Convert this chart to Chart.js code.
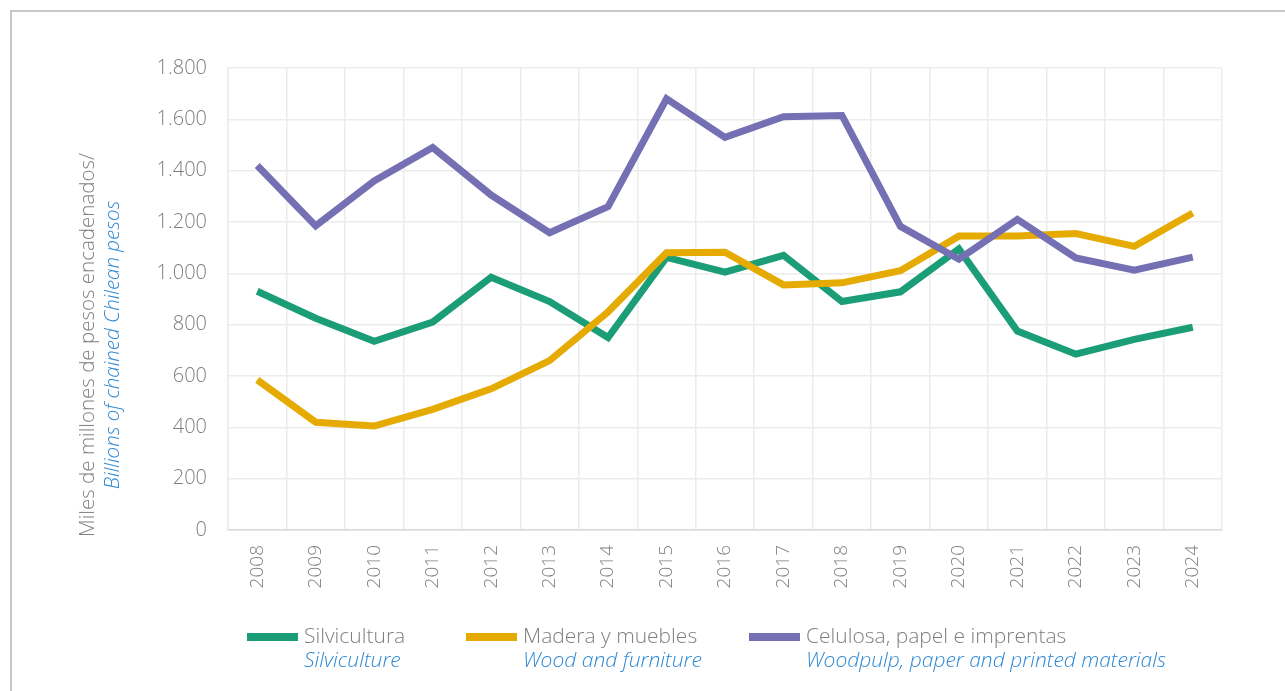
<!DOCTYPE html>
<html>
<head>
<meta charset="utf-8">
<script src="https://cdn.jsdelivr.net/npm/chart.js@4"></script>
<style>
  body { margin: 0; background: #fff; font-family: 'Open Sans', sans-serif; font-weight: 300; }
  #wrap { position: relative; width: 1285px; height: 691px; overflow: hidden; }
  #frame { position: absolute; left: 10px; top: 10px; width: 1300px; height: 720px; border: 2px solid #c8c8c8; }
  canvas { position: absolute; left: 0; top: 0; }
  .leg { position: absolute; top: 623px; font-size: 21px; line-height: 24px; color: #7f7f7f; }
  .leg .sw { position: absolute; left: 0; top: 10px; width: 51px; height: 8px; }
  .leg .t { margin-left: 57px; white-space: nowrap; }
  .leg .en { color: #2f88d4; font-style: italic; }
</style>
</head>
<body>
<div id="wrap">
  <div id="frame"></div>
  <canvas id="chart" width="1285" height="691"></canvas>
  <div id="legend"></div>
</div>
<script>
// Categories and series (miles de millones de pesos encadenados)
const years = ['2008', '2009', '2010', '2011', '2012', '2013', '2014', '2015', '2016',
               '2017', '2018', '2019', '2020', '2021', '2022', '2023', '2024'];

const silvicultura = [930, 825, 735, 810, 985, 890, 750, 1062, 1005, 1070, 890, 928, 1095, 775, 685, 743, 790];
const madera = [585, 420, 405, 470, 550, 660, 850, 1080, 1082, 955, 963, 1010, 1145, 1145, 1155, 1105, 1235];
const celulosa = [1420, 1185, 1360, 1490, 1305, 1158, 1260, 1680, 1530, 1610, 1615, 1183, 1055, 1210, 1060, 1012, 1063];

const seriesNames = ['Silvicultura', 'Madera y muebles', 'Celulosa, papel e imprentas'];
const seriesNamesEn = ['Silviculture', 'Wood and furniture', 'Woodpulp, paper and printed materials'];
const seriesColors = ['#1b9e77', '#e6ab02', '#7570b3'];

const yTitle = 'Miles de millones de pesos encadenados/';
const yTitleEn = 'Billions of chained Chilean pesos';

const gray = '#7f7f7f';
const blue = '#2f88d4';
const fontFamily = "'Open Sans', sans-serif";

// Two-colour y axis title
const yTitlePlugin = {
    id: 'yTitle',
    afterDraw(chart) {
        const ctx = chart.ctx;
        const cy = 345;
        ctx.save();
        ctx.textAlign = 'center';
        ctx.textBaseline = 'middle';
        ctx.translate(88, cy);
        ctx.rotate(-Math.PI / 2);
        ctx.fillStyle = gray;
        ctx.font = '300 20.5px ' + fontFamily;
        ctx.fillText(yTitle, 0, 0);
        ctx.fillStyle = blue;
        ctx.font = 'italic 300 20.5px ' + fontFamily;
        ctx.fillText(yTitleEn, 0, 25);
        ctx.restore();
    }
};

const datasets = [silvicultura, madera, celulosa].map((data, i) => ({
    label: seriesNames[i],
    data: data,
    borderColor: seriesColors[i],
    backgroundColor: seriesColors[i],
    borderWidth: 7,
    pointRadius: 0,
    tension: 0,
    fill: false,
    order: 2 - i
}));

new Chart(document.getElementById('chart'), {
    type: 'line',
    data: { labels: years, datasets: datasets },
    options: {
        responsive: false,
        animation: false,
        layout: { padding: { top: 68, right: 63, left: 0, bottom: 0 } },
        plugins: {
            legend: { display: false },
            tooltip: { enabled: false }
        },
        scales: {
            x: {
                offset: true,
                grid: { offset: true, color: '#ececec', lineWidth: 1.5, drawTicks: false },
                border: { color: '#d9d9d9', width: 1.5 },
                ticks: {
                    color: gray,
                    font: { family: fontFamily, size: 19, weight: '300' },
                    maxRotation: 90,
                    minRotation: 90,
                    padding: 15
                },
                afterFit(scale) { scale.height = 161; }
            },
            y: {
                min: 0,
                max: 1800,
                grid: { color: '#ececec', lineWidth: 1.5, drawTicks: false },
                border: { color: '#ececec', width: 1.5 },
                ticks: {
                    stepSize: 200,
                    color: gray,
                    font: { family: fontFamily, size: 20, weight: '300' },
                    padding: 21,
                    callback: (v) => v.toLocaleString('de-DE')
                },
                afterFit(scale) { scale.width = 228; }
            }
        }
    },
    plugins: [yTitlePlugin]
});

// HTML legend with bilingual labels
const legendLeft = [247, 466, 749];
const legend = document.getElementById('legend');
seriesNames.forEach((name, i) => {
    const item = document.createElement('div');
    item.className = 'leg';
    item.style.left = legendLeft[i] + 'px';
    item.innerHTML = '<div class="sw" style="background:' + seriesColors[i] + '"></div>' +
        '<div class="t">' + name + '</div>' +
        '<div class="t en">' + seriesNamesEn[i] + '</div>';
    legend.appendChild(item);
});
</script>
</body>
</html>
